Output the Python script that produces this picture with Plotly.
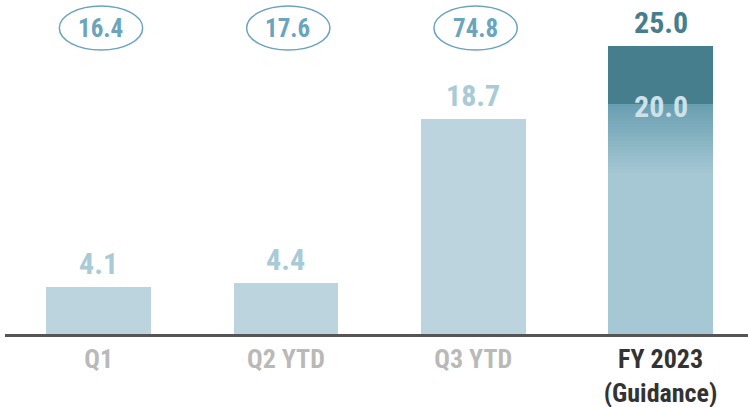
import plotly.graph_objects as go

categories = ["Q1", "Q2 YTD", "Q3 YTD", "FY 2023"]
tick_labels = ["Q1", "Q2 YTD", "Q3 YTD", "FY 2023<br>(Guidance)"]
actual_values = [4.1, 4.4, 18.7]
circled_values = [16.4, 17.6, 74.8]
guidance_low = 20.0
guidance_high = 25.0

LIGHT = "#bbd4de"
LABEL_LIGHT = "#a9cad7"
DARK = "#467e8e"
GRAD_TOP = (0x6a, 0x9f, 0xb1)
GRAD_BOT = (0xa6, 0xc8, 0xd4)
ELL = "#6aa4bd"
VFONT = "Roboto Condensed, Liberation Sans Narrow, DejaVu Sans Condensed, Roboto"

fig = go.Figure()

# actual bars
fig.add_trace(go.Bar(x=categories[:3], y=actual_values, marker=dict(color=LIGHT, line=dict(width=0)),
                     hoverinfo="skip", showlegend=False))

# guidance bar: light base with gradient into the low end, dark up to the high end
grad_span = 6.0
n = 24
base = guidance_low - grad_span
fig.add_trace(go.Bar(x=[categories[3]], y=[base], marker=dict(color="rgb(%d,%d,%d)" % GRAD_BOT, line=dict(width=0)),
                     hoverinfo="skip", showlegend=False))
for i in range(n):
    t = (i + 1) / n
    c = tuple(round(GRAD_BOT[k] + (GRAD_TOP[k] - GRAD_BOT[k]) * t) for k in range(3))
    fig.add_trace(go.Bar(x=[categories[3]], y=[grad_span / n],
                         marker=dict(color="rgb(%d,%d,%d)" % c, line=dict(width=0)),
                         hoverinfo="skip", showlegend=False))
fig.add_trace(go.Bar(x=[categories[3]], y=[guidance_high - guidance_low],
                     marker=dict(color=DARK, line=dict(width=0)), hoverinfo="skip", showlegend=False))

# value labels
for c, v in zip(categories[:3], actual_values):
    fig.add_annotation(x=c, y=v, text="<b>%.1f</b>" % v, showarrow=False, yanchor="bottom", yshift=4,
                       font=dict(family=VFONT, size=30, color=LABEL_LIGHT))
fig.add_annotation(x=categories[3], y=guidance_high, text="<b>%.1f</b>" % guidance_high, showarrow=False,
                   yanchor="bottom", yshift=4, font=dict(family=VFONT, size=30, color=DARK))
fig.add_annotation(x=categories[3], y=guidance_low, text="<b>%.1f</b>" % guidance_low, showarrow=False,
                   yanchor="middle", yshift=-3, font=dict(family=VFONT, size=30, color="#cfe1e8"))

# circled values at top
for i, v in enumerate(circled_values):
    fig.add_shape(type="circle", xref="x", yref="paper", x0=i - 0.21, x1=i + 0.235,
                  y0=1 - 50 / 334, y1=1 - 6 / 334, line=dict(color=ELL, width=1.5), fillcolor="rgba(0,0,0,0)")
    fig.add_annotation(x=categories[i], xref="x", yref="paper", y=1 - 28 / 334, text="<b>%.1f</b>" % v,
                       showarrow=False, yanchor="middle", xshift=2, font=dict(family=VFONT, size=25, color=ELL))

ticktext = []
for i, t in enumerate(tick_labels):
    col = "#333333" if i == 3 else "#b9b9b9"
    ticktext.append("<b><span style='color:%s'>%s</span></b>" % (col, t.replace("<br>", "</span></b><br><b><span style='color:%s'>" % col)))

fig.update_layout(
    width=748, height=407,
    margin=dict(l=5, r=0, t=0, b=73),
    barmode="stack", bargap=0.44,
    plot_bgcolor="white", paper_bgcolor="white",
    xaxis=dict(type="category", categoryorder="array", categoryarray=categories,
               range=[-0.5, 3.467], tickvals=categories, ticktext=ticktext, automargin=False,
               tickfont=dict(family=VFONT, size=26), showline=True, linecolor="#555555", linewidth=2.5,
               showgrid=False, ticks="", fixedrange=True),
    yaxis=dict(range=[0, 29.04], visible=False, showgrid=False, zeroline=False, automargin=False,
               fixedrange=True),
)

fig.write_html("out.html", config={"displayModeBar": False},
               post_script="document.body.style.margin='0';")
